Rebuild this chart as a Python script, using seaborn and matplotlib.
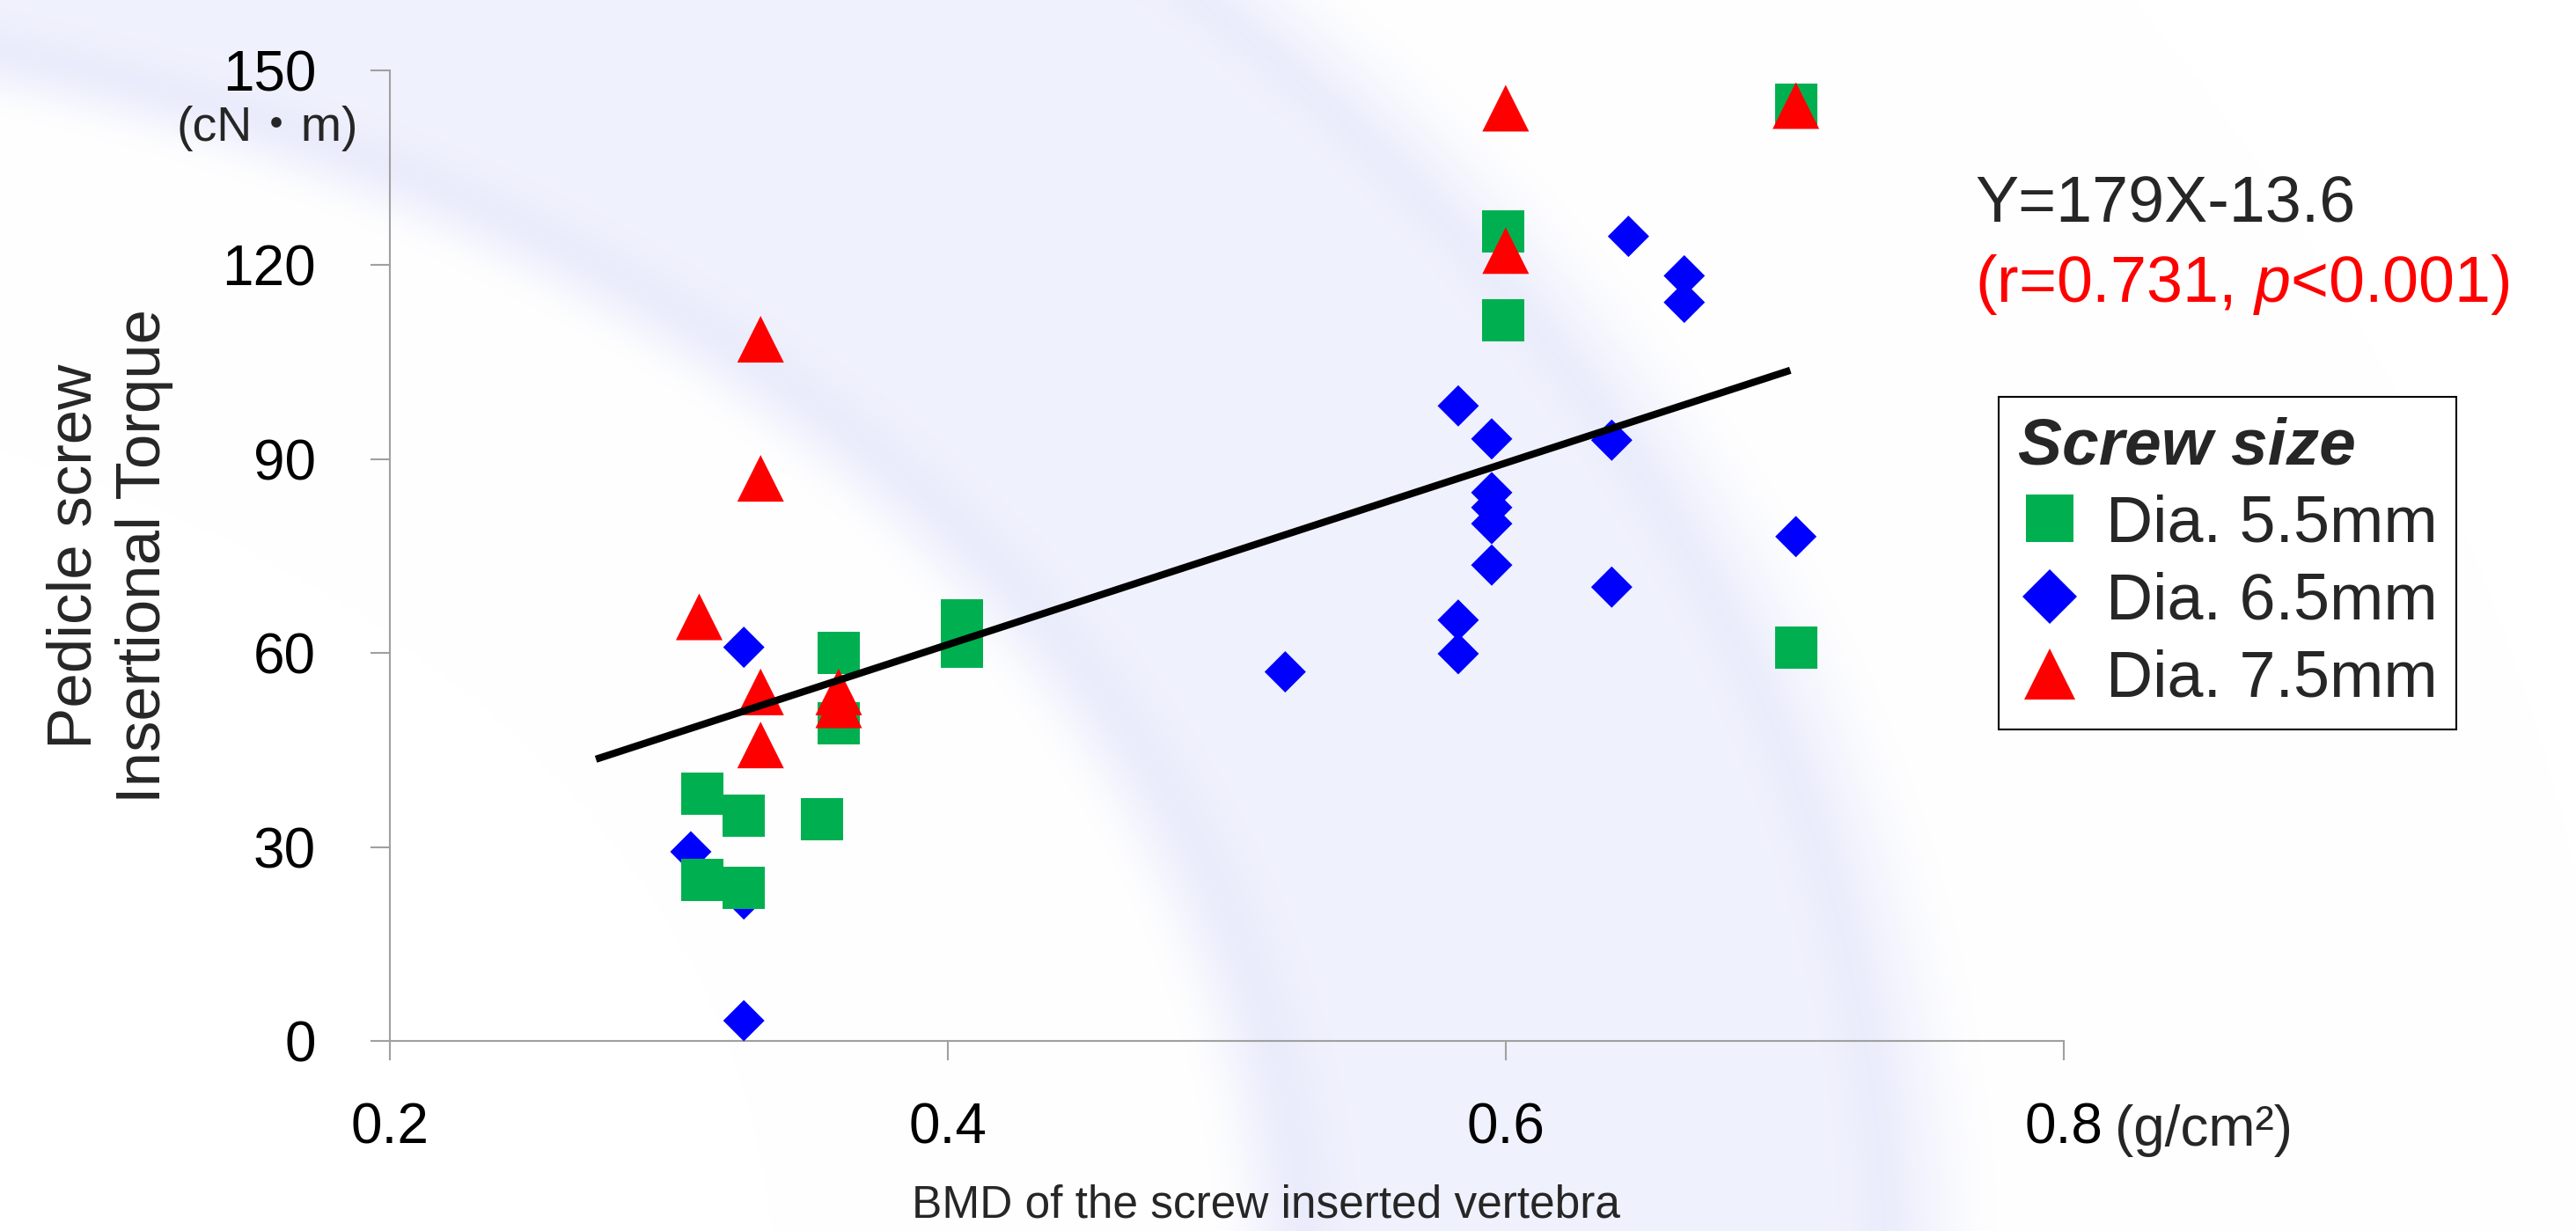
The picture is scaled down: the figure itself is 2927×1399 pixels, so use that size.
import matplotlib
matplotlib.use('Agg')
import matplotlib.pyplot as plt
import numpy as np
import pandas as pd
import seaborn as sns
from matplotlib.lines import Line2D
from matplotlib import font_manager

# Values
bmd_55 = [0.312, 0.312, 0.327, 0.327, 0.355, 0.361, 0.361, 0.405, 0.405, 0.599, 0.599, 0.704, 0.704]
torque_55 = [38.3, 24.9, 34.9, 23.7, 34.3, 60.0, 49.1, 65.0, 61.0, 125.1, 111.4, 144.8, 60.8]

bmd_65 = [0.308, 0.327, 0.327, 0.327, 0.521, 0.583, 0.583, 0.583, 0.595, 0.595,
          0.595, 0.595, 0.595, 0.638, 0.638, 0.644, 0.664, 0.664, 0.704]
torque_65 = [29.3, 60.9, 22.0, 3.2, 57.1, 98.2, 65.1, 59.9, 93.1, 84.8,
             82.5, 80.0, 73.6, 92.9, 70.2, 124.4, 118.3, 114.2, 78.0]

bmd_75 = [0.311, 0.333, 0.333, 0.333, 0.333, 0.361, 0.361, 0.600, 0.600, 0.704]
torque_75 = [65.6, 108.5, 87.0, 54.0, 45.8, 54.0, 52.0, 144.2, 122.2, 144.6]

# regression line as drawn
trend_x = [0.274, 0.702]
trend_y = [43.6, 103.7]

x_ticks = [0.2, 0.4, 0.6, 0.8]
y_ticks = [0, 30, 60, 90, 120, 150]
screw_labels = ['Dia. 5.5mm', 'Dia. 6.5mm', 'Dia. 7.5mm']

GREEN, BLUE, RED = '#00B050', '#0000FF', '#FF0000'
AXIS_GRAY = '#A0A0A0'

sns.set_style('white')
plt.rcParams['font.family'] = ['Liberation Sans', 'Noto Sans CJK JP', 'DejaVu Sans']
plt.rcParams['mathtext.fontset'] = 'custom'
plt.rcParams['mathtext.rm'] = 'Liberation Sans'
plt.rcParams['mathtext.it'] = 'Liberation Sans:italic'

# the axis title in the original is a condensed face
installed = {f.name for f in font_manager.fontManager.ttflist}
if 'Liberation Sans Narrow' in installed:
    xlabel_family, xlabel_size = ['Liberation Sans Narrow'], 47
else:
    xlabel_family, xlabel_size = ['Liberation Sans'], 37

# table for seaborn: diamonds first, then squares, then triangles on top
df = pd.concat([
    pd.DataFrame({'BMD': bmd_65, 'Torque': torque_65, 'Screw': screw_labels[1]}),
    pd.DataFrame({'BMD': bmd_55, 'Torque': torque_55, 'Screw': screw_labels[0]}),
    pd.DataFrame({'BMD': bmd_75, 'Torque': torque_75, 'Screw': screw_labels[2]}),
], ignore_index=True)

palette = {screw_labels[0]: GREEN, screw_labels[1]: BLUE, screw_labels[2]: RED}
marker_map = {screw_labels[0]: 's', screw_labels[1]: 'D', screw_labels[2]: '^'}
size_map = {screw_labels[0]: 1194, screw_labels[1]: 572, screw_labels[2]: 1457}

fig = plt.figure(figsize=(29.27, 13.99), dpi=100, facecolor='white')

# decorative lavender swoosh behind the chart (soft-edged elliptical band)
bg = fig.add_axes([0, 0, 1, 1], zorder=-1)
gx, gy = np.meshgrid(np.linspace(0, 1568, 800), np.linspace(0, 749, 383))
r_out = np.sqrt(((gx + 300) / 1487) ** 2 + ((gy - 780) / 1140) ** 2)
r_in = np.sqrt(((gx + 300) / 1062) ** 2 + ((gy - 780) / 757) ** 2)
band = 1 / (1 + np.exp(-(1 - r_out) / 0.008)) * 1 / (1 + np.exp(-(r_in - 1) / 0.008))
ridge = np.exp(-((r_out - 0.975) / 0.012) ** 2) + np.exp(-((r_in - 1.03) / 0.02) ** 2)
shade = np.clip(band * (0.8 + 0.3 * ridge), 0, 1.2)
lav = np.array([0.925, 0.933, 0.988])
img = 1 - shade[..., None] * (1 - lav)
bg.imshow(np.clip(img, 0, 1), extent=[0, 1568, 749, 0], aspect='auto', interpolation='bilinear')
bg.set_xlim(0, 1568)
bg.set_ylim(749, 0)
bg.axis('off')

ax = fig.add_axes([0.15118, 0.15404, 0.64998, 0.78856])
ax.set_facecolor('none')

sns.scatterplot(data=df, x='BMD', y='Torque', hue='Screw', style='Screw', size='Screw',
                palette=palette, markers=marker_map, sizes=size_map,
                linewidth=0, legend=False, ax=ax, zorder=3, clip_on=False)
ax.plot(trend_x, trend_y, color='black', lw=5.9, solid_capstyle='butt', zorder=4)

ax.set_xlim(0.2, 0.8)
ax.set_ylim(0, 150)
ax.set_xticks(x_ticks)
ax.set_xticklabels([f'{v:.1f}' for v in x_ticks])
ax.set_yticks(y_ticks)
ax.set_yticklabels([str(v) for v in y_ticks])

sns.despine(ax=ax)
for side in ['left', 'bottom']:
    ax.spines[side].set_color(AXIS_GRAY)
    ax.spines[side].set_linewidth(1.5)
ax.tick_params(bottom=True, left=True, direction='out', length=16, width=1.5,
               color=AXIS_GRAY, labelsize=46, labelcolor='black')
ax.tick_params(axis='x', pad=34)
ax.tick_params(axis='y', pad=44)

ax.set_xlabel('BMD of the screw inserted vertebra', family=xlabel_family,
              fontsize=xlabel_size, va='baseline', ha='center')
ax.xaxis.set_label_coords(0.4916, 0.0114, transform=fig.transFigure)
ax.set_ylabel('Pedicle screw\nInsertional Torque', fontsize=51, rotation=90,
              ha='center', va='center', linespacing=1.25)
ax.yaxis.set_label_coords(0.0425, 0.548, transform=fig.transFigure)

# unit labels
fig.text(0.1390, 0.8856, '(cN\u30fbm)', fontsize=40, ha='right', va='baseline')
fig.text(0.8210, 0.0693, '(g/cm\u00b2)', fontsize=46, ha='left', va='baseline')

# regression equation
fig.text(0.7667, 0.8194, 'Y=179X-13.6', fontsize=53, ha='left', va='baseline')
fig.text(0.7667, 0.7549, r'(r=0.731, $\mathit{p}$<0.001)', fontsize=53, color=RED,
         ha='left', va='baseline')

handles = [
    Line2D([], [], marker='s', ls='none', color=GREEN, markersize=39, markeredgewidth=0),
    Line2D([], [], marker='D', ls='none', color=BLUE, markersize=31.5, markeredgewidth=0),
    Line2D([], [], marker='^', ls='none', color=RED, markersize=42, markeredgewidth=0),
]
leg = fig.legend(handles, screw_labels, loc='upper left', bbox_to_anchor=(0.7759, 0.6776),
                 bbox_transform=fig.transFigure, borderaxespad=0, frameon=True,
                 fancybox=False, edgecolor='black', framealpha=1, fontsize=53,
                 title='Screw size',
                 title_fontproperties={'weight': 'bold', 'style': 'italic', 'size': 54},
                 alignment='left', borderpad=0.3, labelspacing=0.26,
                 handlelength=0.98, handletextpad=0.37)
leg.get_frame().set_linewidth(1.5)

fig.savefig('out.png', dpi=100, facecolor='white')
